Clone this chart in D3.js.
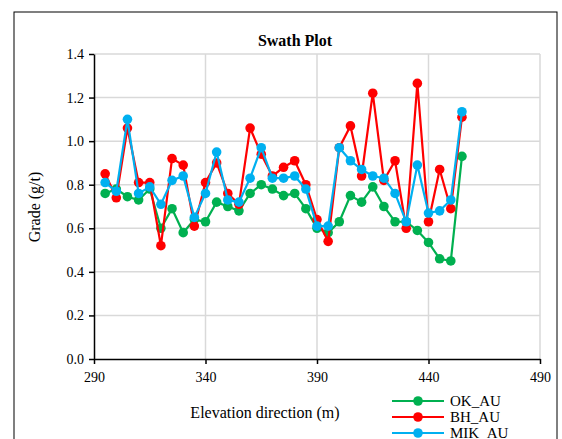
<!DOCTYPE html>
<html>
<head>
<meta charset="utf-8">
<script src="https://cdn.jsdelivr.net/npm/d3@7"></script>
<style>
  body { margin: 0; background: #fff; }
  svg text { font-family: "Liberation Serif", "Times New Roman", Tinos, "DejaVu Serif", serif !important; }
</style>
</head>
<body>
<svg id="chart" width="562" height="439"></svg>
<script>
// elevations
const elevation = [295,300,305,310,315,320,325,330,335,340,345,350,355,360,365,370,375,
                   380,385,390,395,400,405,410,415,420,425,430,435,440,445,450,455];
const okAu  = [0.76,0.78,0.745,0.73,0.78,0.60,0.69,0.58,0.64,0.63,0.72,0.70,0.68,0.76,0.80,0.78,0.75,
               0.76,0.69,0.60,0.58,0.63,0.75,0.72,0.79,0.70,0.63,0.63,0.59,0.535,0.46,0.45,0.93];
const bhAu  = [0.85,0.74,1.06,0.81,0.81,0.52,0.92,0.89,0.61,0.81,0.90,0.76,0.71,1.06,0.94,0.84,0.88,
               0.91,0.80,0.64,0.54,0.97,1.07,0.84,1.22,0.82,0.91,0.60,1.265,0.63,0.87,0.69,1.11];
const mikAu = [0.81,0.77,1.10,0.76,0.79,0.71,0.82,0.84,0.65,0.76,0.95,0.73,0.72,0.83,0.97,0.83,0.83,
               0.84,0.78,0.61,0.61,0.97,0.91,0.87,0.84,0.83,0.76,0.63,0.89,0.67,0.68,0.73,1.135];
const xTicks = [290,340,390,440,490];
const yTicks = [0,0.2,0.4,0.6,0.8,1.0,1.2,1.4];

const series = [
  { name: 'OK_AU', values: okAu, color: '#00b050' },
  { name: 'BH_AU', values: bhAu, color: '#ff0000' },
  { name: 'MIK_AU', values: mikAu, color: '#00b0f0' }
];

const svg = d3.select('#chart');
const x = d3.scaleLinear().domain([290, 490]).range([94, 540]);
const y = d3.scaleLinear().domain([0, 1.4]).range([359, 54]);

// outer frame
svg.append('rect').attr('x', 14).attr('y', 12).attr('width', 543).attr('height', 440)
  .attr('fill', 'none').attr('stroke', '#000').attr('stroke-width', 1);

// gridlines
svg.append('g').selectAll('line').data(yTicks.slice(1)).enter().append('line')
  .attr('x1', 94).attr('x2', 540).attr('y1', d => y(d)).attr('y2', d => y(d))
  .attr('stroke', '#d9d9d9').attr('stroke-width', 1.5);
svg.append('g').selectAll('line').data(xTicks.slice(1)).enter().append('line')
  .attr('y1', 54).attr('y2', 359).attr('x1', d => x(d)).attr('x2', d => x(d))
  .attr('stroke', '#d9d9d9').attr('stroke-width', 1.5);

// axes
const xAxis = svg.append('g').attr('transform', 'translate(0,359)')
  .call(d3.axisBottom(x).tickValues(xTicks).tickSize(5).tickSizeOuter(0).tickFormat(d3.format('d')));
const yAxis = svg.append('g').attr('transform', 'translate(94,0)')
  .call(d3.axisLeft(y).tickValues(yTicks).tickSize(5).tickSizeOuter(0).tickFormat(d3.format('.1f')));
[xAxis, yAxis].forEach(a => {
  a.attr('font-family', null);
  a.selectAll('path, line').attr('stroke', '#000').attr('stroke-width', 1.5);
  a.selectAll('text').attr('font-size', 14).attr('fill', '#000');
});
xAxis.selectAll('text').attr('dy', '1.1em');
yAxis.selectAll('text').attr('dx', '-2');

// lines + markers
const line = d3.line().x((d, i) => x(elevation[i])).y(d => y(d));
series.forEach(s => {
  svg.append('path').datum(s.values).attr('d', line)
    .attr('fill', 'none').attr('stroke', s.color).attr('stroke-width', 2.2);
  svg.append('g').selectAll('circle').data(s.values).enter().append('circle')
    .attr('cx', (d, i) => x(elevation[i])).attr('cy', d => y(d)).attr('r', 4.8)
    .attr('fill', s.color);
});

// titles
svg.append('text').attr('x', 295).attr('y', 46).attr('text-anchor', 'middle')
  .attr('font-size', 16).attr('font-weight', 'bold').text('Swath Plot');
svg.append('text').attr('x', 265).attr('y', 418).attr('text-anchor', 'middle')
  .attr('font-size', 16).text('Elevation direction (m)');
svg.append('text').attr('transform', 'translate(40,207) rotate(-90)').attr('text-anchor', 'middle')
  .attr('font-size', 16).text('Grade (g/t)');

// legend
const lg = svg.append('g').selectAll('g').data(series).enter().append('g')
  .attr('transform', (d, i) => `translate(392,${401 + i * 16})`);
lg.append('rect').attr('x', -2).attr('y', -8).attr('width', 140).attr('height', 16).attr('fill', '#fff');
lg.append('line').attr('x1', 0).attr('x2', 52).attr('stroke', d => d.color).attr('stroke-width', 2.2);
lg.append('circle').attr('cx', 26).attr('r', 4.8).attr('fill', d => d.color);
lg.append('text').attr('x', 58).attr('y', 5).attr('font-size', 15).text(d => d.name);
</script>
</body>
</html>
